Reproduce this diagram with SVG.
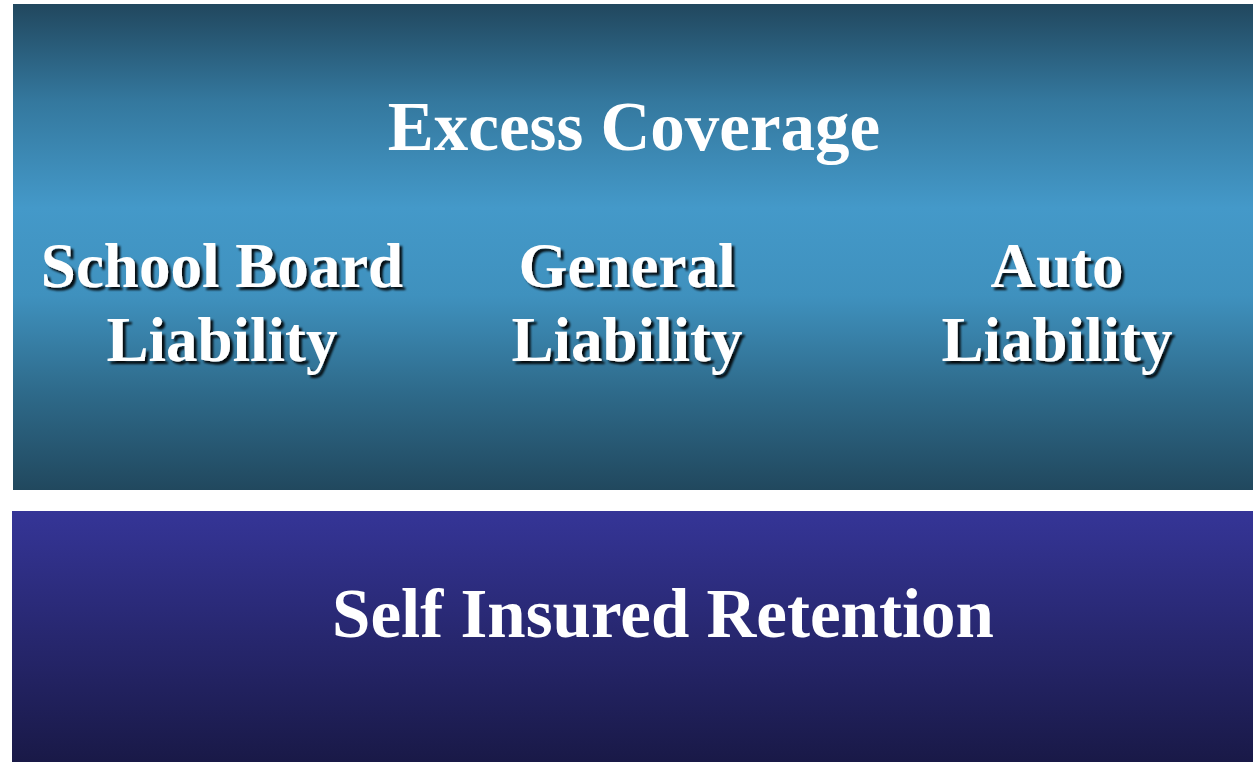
<svg xmlns="http://www.w3.org/2000/svg" width="1253" height="762" viewBox="0 0 1253 762">
<defs>
<linearGradient id="gTop" x1="0" y1="0" x2="0" y2="1">
<stop offset="0" stop-color="#21475e"/>
<stop offset="0.2" stop-color="#34789e"/>
<stop offset="0.42" stop-color="#4499c9"/>
<stop offset="0.6" stop-color="#3f91be"/>
<stop offset="0.8" stop-color="#2e6a8a"/>
<stop offset="1" stop-color="#21485e"/>
</linearGradient>
<linearGradient id="gBot" x1="0" y1="0" x2="0" y2="1">
<stop offset="0" stop-color="#353597"/>
<stop offset="0.5" stop-color="#27276f"/>
<stop offset="1" stop-color="#191947"/>
</linearGradient>
<filter id="sh" x="-5%" y="-10%" width="115%" height="130%">
<feGaussianBlur in="SourceAlpha" stdDeviation="0.8"/>
<feOffset dx="3" dy="3" result="o"/>
<feFlood flood-color="#000" flood-opacity="0.9"/>
<feComposite in2="o" operator="in"/>
<feMerge><feMergeNode/><feMergeNode in="SourceGraphic"/></feMerge>
</filter>
</defs>
<style>
text{font-family:"Liberation Serif","Times New Roman",serif;font-weight:bold;fill:#fff;text-anchor:middle}
.big{font-size:69px}
.mid{font-size:63px}
</style>
<rect width="1253" height="762" fill="#fff"/>
<g id="excess">
<rect x="13" y="4" width="1240" height="486" fill="url(#gTop)"/>
<text class="big" x="634" y="150">Excess Coverage</text>
</g>
<g id="school" filter="url(#sh)">
<text class="mid" x="222" y="287">School Board</text>
<text class="mid" x="222" y="361">Liability</text>
</g>
<g id="general" filter="url(#sh)">
<text class="mid" x="627" y="287">General</text>
<text class="mid" x="627" y="361">Liability</text>
</g>
<g id="auto" filter="url(#sh)">
<text class="mid" x="1057" y="287">Auto</text>
<text class="mid" x="1057" y="361">Liability</text>
</g>
<g id="sir">
<rect x="12" y="511" width="1241" height="251" fill="url(#gBot)"/>
<text class="big" x="663" y="637">Self Insured Retention</text>
</g>
<g id="connectors"/>
</svg>
